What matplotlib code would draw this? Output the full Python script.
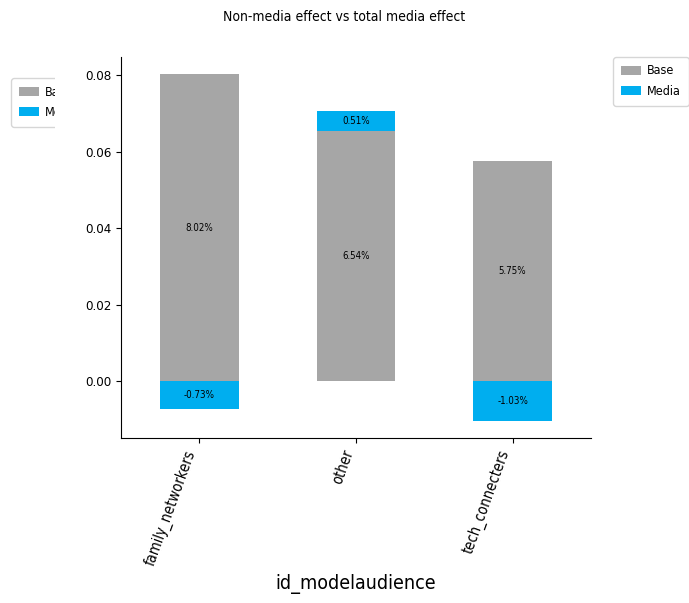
import matplotlib
matplotlib.use("Agg")
import matplotlib.pyplot as plt
from matplotlib.patches import Rectangle
import numpy as np

categories = ["family_networkers", "other", "tech_connecters"]
base = [0.0802, 0.0654, 0.0575]
media = [-0.0073, 0.0051, -0.0103]
series_names = ["Base", "Media"]
colors = ["#a6a6a6", "#00aeef"]

plt.rcParams['font.family'] = ['DejaVu Sans']
plt.rcParams['font.stretch'] = 'condensed'

fig = plt.figure(figsize=(6.89, 6.03), dpi=100)
ax = fig.add_axes([121/689, 1-438/603, 470/689, 381/603])
ax.set_zorder(20)

x = np.arange(len(categories))
pos_bottom = np.zeros(len(categories))
neg_bottom = np.zeros(len(categories))
handles = []
for name, vals, c in zip(series_names, [base, media], colors):
    vals = np.array(vals)
    bottoms = np.where(vals >= 0, pos_bottom, neg_bottom)
    bars = ax.bar(x, vals, width=0.5, bottom=bottoms, color=c, label=name)
    handles.append(bars)
    for xi, b, v in zip(x, bottoms, vals):
        ax.text(xi, b + v / 2, f"{v*100:.2f}%", ha="center", va="center", fontsize=7)
    pos_bottom = pos_bottom + np.where(vals >= 0, vals, 0)
    neg_bottom = neg_bottom + np.where(vals < 0, vals, 0)

ax.set_xlim(-0.5, 2.5)
ax.set_xticks(x)
ax.set_xticklabels(categories, rotation=70, ha="right", fontsize=10.5)
ax.set_yticks([0.0, 0.02, 0.04, 0.06, 0.08])
ax.set_yticklabels(["0.00", "0.02", "0.04", "0.06", "0.08"], fontsize=9.5)
ax.spines["top"].set_visible(False)
ax.spines["right"].set_visible(False)
ax.set_xlabel("id_modelaudience", fontsize=14, labelpad=5)
fig.suptitle("Non-media effect vs total media effect", fontsize=10, y=0.983)

leg_kw = dict(loc="upper left", fontsize=9, borderaxespad=0, handlelength=1.6,
              handletextpad=0.55, borderpad=0.6, labelspacing=0.6)
fig.legend(handles, series_names, bbox_to_anchor=(613/689, 1-57/603), **leg_kw)
fig.legend(handles, series_names, bbox_to_anchor=(11/689, 1-78/603), **leg_kw)
# the left legend is cut off at its right side in the reference
fig.patches.append(Rectangle((55/689, 1-130/603), 50/689, 56/603, transform=fig.transFigure,
                             facecolor="white", edgecolor="none", zorder=10))

fig.savefig("out.png", dpi=100)
